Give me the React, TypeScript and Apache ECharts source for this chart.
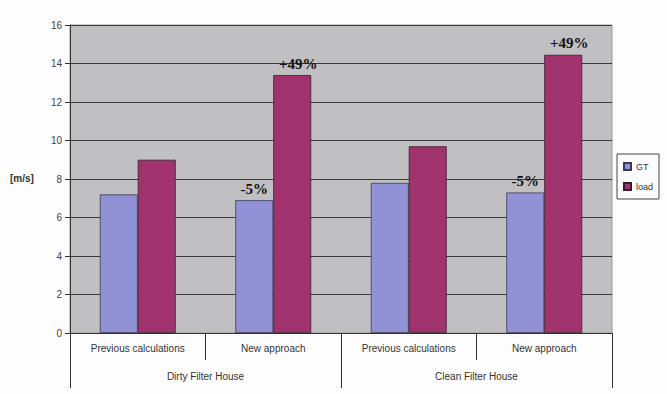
import React, { useEffect, useRef } from "react";
import * as echarts from "echarts";

const categories = ["Previous calculations", "New approach", "Previous calculations", "New approach"];
const groups = ["Dirty Filter House", "Clean Filter House"];
const gtValues = [7.2, 6.9, 7.8, 7.3];
const loadValues = [9.0, 13.4, 9.7, 14.45];
const gtNotes = ["", "-5%", "", "-5%"];
const loadNotes = ["", "+49%", "", "+49%"];
const yTicks = [0, 2, 4, 6, 8, 10, 12, 14, 16];

export default function App() {
  const ref = useRef<HTMLDivElement>(null);
  useEffect(() => {
    if (!ref.current) return;
    const chart = echarts.init(ref.current, undefined, { renderer: "svg" });
    const noteLabel = (notes: string[], offset: number[]) => ({
      show: true,
      position: "top",
      distance: 4,
      offset,
      formatter: (p: any) => notes[p.dataIndex],
      fontFamily: "Liberation Serif, Times New Roman, serif",
      fontWeight: "bold",
      fontSize: 15,
      color: "#111",
    });
    chart.setOption({
      animation: false,
      backgroundColor: "#fdfdfd",
      grid: { left: 70, right: 55, top: 25, bottom: 61, show: true, backgroundColor: "#c0c0c2", borderColor: "#999", borderWidth: 1 },
      legend: {
        orient: "vertical",
        left: 617,
        top: 154,
        padding: [8, 6, 8, 6],
        borderColor: "#444",
        borderWidth: 1,
        itemWidth: 7,
        itemHeight: 7,
        itemGap: 11,
        icon: "rect",
        textStyle: { fontSize: 9, color: "#333", fontFamily: "Liberation Sans, Arial, sans-serif" },
        data: ["GT", "load"],
      },
      graphic: [
        {
          type: "text",
          left: 10,
          top: 173,
          style: { text: "[m/s]", fontSize: 10, fontWeight: "bold", fill: "#333", fontFamily: "Liberation Sans, Arial, sans-serif" },
        },
      ],
      xAxis: [
        {
          type: "category",
          data: categories,
          position: "bottom",
          axisLine: { lineStyle: { color: "#333" } },
          axisTick: { show: true, length: 27, lineStyle: { color: "#333" } },
          axisLabel: { fontSize: 10, color: "#333", margin: 10, fontFamily: "Liberation Sans, Arial, sans-serif" },
        },
        {
          type: "category",
          data: groups,
          position: "bottom",
          offset: 0,
          axisLine: { show: false },
          axisTick: { show: true, length: 55, lineStyle: { color: "#333" } },
          axisLabel: { fontSize: 10, color: "#333", margin: 38, fontFamily: "Liberation Sans, Arial, sans-serif" },
        },
      ],
      yAxis: {
        type: "value",
        min: 0,
        max: 16,
        interval: 2,
        axisLine: { show: true, lineStyle: { color: "#333" } },
        axisTick: { show: true, length: 5, lineStyle: { color: "#333" } },
        axisLabel: { fontSize: 10, color: "#444", margin: 8, fontFamily: "Liberation Sans, Arial, sans-serif", formatter: (v: number) => (yTicks.includes(v) ? String(v) : "") },
        splitLine: { show: true, lineStyle: { color: "#3a3a3a", width: 1.2 } },
      },
      series: [
        {
          name: "GT",
          type: "bar",
          data: gtValues,
          barGap: "0%",
          barCategoryGap: "44%",
          itemStyle: { color: "#9191d6", borderColor: "#3a3a5a", borderWidth: 0.8 },
          label: noteLabel(gtNotes, [0, 0]),
          z: 2,
        },
        {
          name: "load",
          type: "bar",
          data: loadValues,
          itemStyle: { color: "#a0336e", borderColor: "#3a1a2a", borderWidth: 0.8 },
          label: noteLabel(loadNotes, [6, 0]),
          z: 3,
        },
      ],
    });
    return () => chart.dispose();
  }, []);
  return <div ref={ref} style={{ position: "fixed", left: 0, top: 0, width: 667, height: 394 }} />;
}
